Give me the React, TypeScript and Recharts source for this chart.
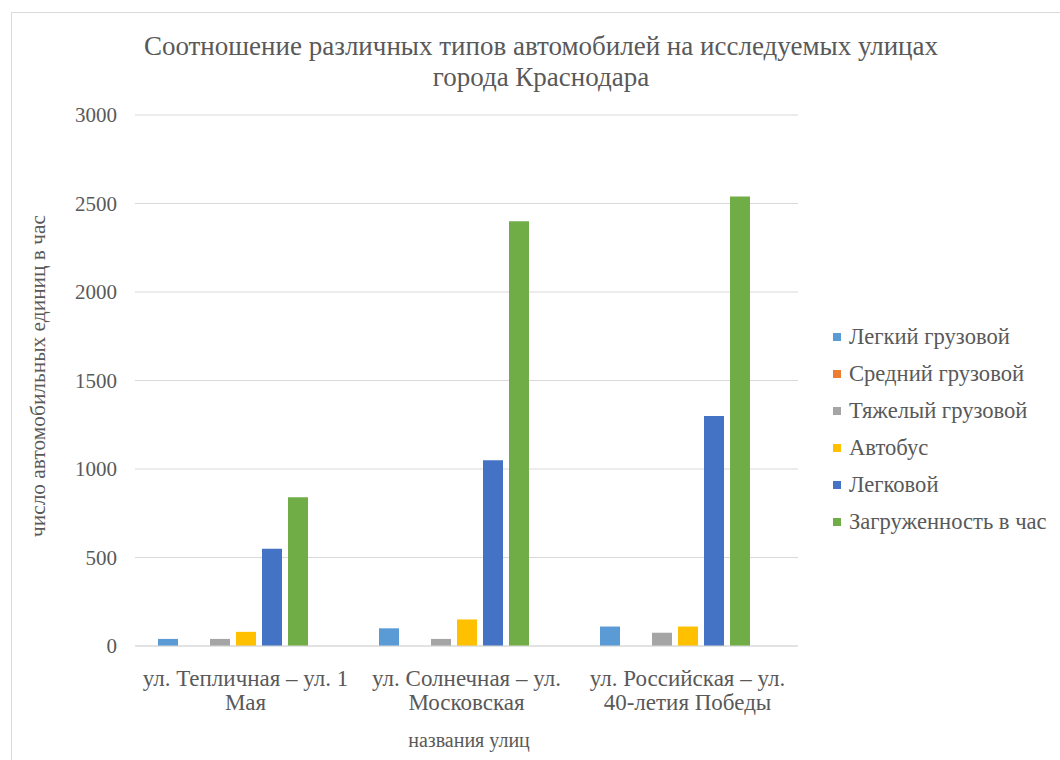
import React from "react";
import { BarChart, Bar, XAxis, YAxis, CartesianGrid, Text } from "recharts";

const streets = [
  "ул. Тепличная – ул. 1 Мая",
  "ул. Солнечная – ул. Московская",
  "ул. Российская – ул. 40-летия Победы",
];

const seriesNames = [
  "Легкий грузовой",
  "Средний грузовой",
  "Тяжелый грузовой",
  "Автобус",
  "Легковой",
  "Загруженность в час",
];

const lightTruck = [40, 100, 110];
const mediumTruck = [0, 0, 0];
const heavyTruck = [40, 40, 75];
const bus = [80, 150, 110];
const cars = [550, 1050, 1300];
const perHour = [840, 2400, 2540];

const yTicks = [0, 500, 1000, 1500, 2000, 2500, 3000];

const colors = ["#5B9BD5", "#ED7D31", "#A5A5A5", "#FFC000", "#4472C4", "#70AD47"];
const keys = ["light", "medium", "heavy", "bus", "cars", "perHour"];

const rows = streets.map((street, i) => ({
  street,
  light: lightTruck[i],
  medium: mediumTruck[i],
  heavy: heavyTruck[i],
  bus: bus[i],
  cars: cars[i],
  perHour: perHour[i],
}));

const FONT = "serif";
const TEXT = "#595959";

// Text measures words at its default size, so the wrap width is given in those units
const StreetTick = (props: any) => {
  const { x, y, payload } = props;
  return (
    <Text
      x={x}
      y={y + 16}
      width={170}
      textAnchor="middle"
      verticalAnchor="start"
      lineHeight={24}
      fontSize={23}
      fontFamily={FONT}
      fill={TEXT}
    >
      {payload.value}
    </Text>
  );
};

const AxisTitle = (props: any) => {
  const { x, y, angle, size, children } = props;
  return (
    <text
      x={x}
      y={y}
      transform={angle ? `rotate(${angle} ${x} ${y})` : undefined}
      textAnchor="middle"
      dominantBaseline="central"
      fontSize={size}
      fontFamily={FONT}
      fill={TEXT}
    >
      {children}
    </text>
  );
};

export default function App() {
  return (
    <div
      style={{
        position: "absolute",
        left: 0,
        top: 0,
        width: 1060,
        height: 760,
        background: "#fff",
        fontFamily: FONT,
        overflow: "hidden",
      }}
    >
      <div
        style={{
          position: "absolute",
          left: 11,
          top: 12,
          width: 1060,
          height: 760,
          border: "1px solid #d9d9d9",
        }}
      />
      <div
        style={{
          position: "absolute",
          top: 31,
          left: 0,
          width: 1082,
          textAlign: "center",
          fontSize: 27,
          lineHeight: "31px",
          color: TEXT,
        }}
      >
        Соотношение различных типов автомобилей на исследуемых улицах
        <br />
        города Краснодара
      </div>

      <div style={{ position: "absolute", left: 0, top: 0 }}>
        <BarChart
          width={1060}
          height={760}
          data={rows}
          margin={{ top: 115, right: 262, bottom: 0, left: 10 }}
          barSize={20}
          barGap={6}
        >
          <CartesianGrid vertical={false} stroke="#d9d9d9" />
          <XAxis
            dataKey="street"
            axisLine={{ stroke: "#d9d9d9" }}
            tickLine={false}
            tick={<StreetTick />}
            interval={0}
            height={114}
          />
          <YAxis
            width={125}
            domain={[0, 3000]}
            ticks={yTicks}
            axisLine={false}
            tickLine={false}
            tickMargin={12}
            tick={{ fill: TEXT, fontSize: 21, fontFamily: FONT }}
          />
          {keys.map((k, i) => (
            <Bar key={k} dataKey={k} name={seriesNames[i]} fill={colors[i]} isAnimationActive={false} />
          ))}
          {/* empty seventh slot, keeps the bar groups left of the category centre */}
          <Bar dataKey="reserve" legendType="none" fill="none" isAnimationActive={false} />
        </BarChart>
      </div>

      <svg
        width={1060}
        height={760}
        style={{ position: "absolute", left: 0, top: 0, pointerEvents: "none" }}
      >
        <AxisTitle x={38} y={376} angle={-90} size={21.4}>
          число автомобильных единиц в час
        </AxisTitle>
        <AxisTitle x={469} y={740} size={20}>
          названия улиц
        </AxisTitle>
      </svg>

      <div style={{ position: "absolute", left: 833, top: 318 }}>
        {seriesNames.map((name, i) => (
          <div
            key={name}
            style={{ display: "flex", alignItems: "center", height: 37, fontSize: 22.6, color: TEXT }}
          >
            <span
              style={{ width: 8, height: 8, background: colors[i], marginRight: 8, flex: "none" }}
            />
            <span>{name}</span>
          </div>
        ))}
      </div>
    </div>
  );
}
